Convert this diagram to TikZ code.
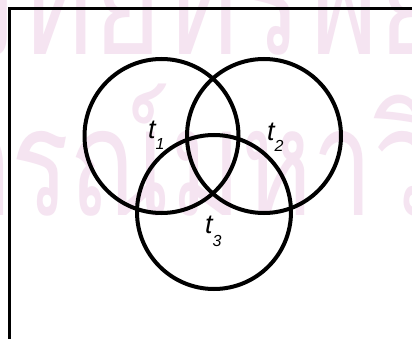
\documentclass[tikz,border=0pt]{standalone}
\usepackage{fontspec}
\setmainfont{Liberation Sans}
\newfontfamily\thaiwm[Script=Thai]{Loma}
\definecolor{wmpink}{RGB}{245,228,241}
\newlength\wmA
\newlength\wmB
\newcommand\wmfont{\thaiwm\fontsize{150}{150}\selectfont}
\begin{document}
\settowidth{\wmA}{\wmfont ศูนย์วิ}%
\settowidth{\wmB}{\wmfont จุฬาลงกรณ์}%
\begin{tikzpicture}[x=1pt,y=1pt,
  venn/.style={draw=black, line width=4pt},
  frameline/.style={draw=black, line width=3pt, line cap=rect},
  wm/.style={text=wmpink, font=\wmfont, inner sep=0pt, transform shape},
  lbl/.style={font=\fontsize{27}{27}\selectfont\itshape, inner sep=0pt, anchor=base west}]
\useasboundingbox (0,0) rectangle (412,338);
\fill[white] (0,0) rectangle (412,338);
\begin{scope}
\clip (0,0) rectangle (412,338);
\node[wm, xscale=0.78, anchor=base west] (wmtop) at (16pt-0.78\wmA, 283pt) {ศูนย์วิทยทรัพยากร};
\node[wm, xscale=0.72, anchor=base west] (wmbot) at (170pt-0.72\wmB, 123pt) {จุฬาลงกรณ์มหาวิทยาลัย};
\end{scope}
\coordinate (tl) at (9,329);
\coordinate (tr) at (412,329);
\coordinate (bl) at (9,0);
\draw[frameline] (tr) -- (tl) -- (bl);
\node[venn, circle, minimum size=154pt, inner sep=0pt] (c1) at (161.5,202) {};
\node[venn, circle, minimum size=154pt, inner sep=0pt] (c2) at (264,202) {};
\node[venn, circle, minimum size=154pt, inner sep=0pt] (c3) at (214,126) {};
\node[lbl] (t1) at (148,200) {t\raisebox{-11pt}{\fontsize{16}{16}\selectfont 1}};
\node[lbl] (t2) at (267,198) {t\raisebox{-11pt}{\fontsize{16}{16}\selectfont 2}};
\node[lbl] (t3) at (205,105) {t\raisebox{-13pt}{\fontsize{16}{16}\selectfont 3}};
\end{tikzpicture}
\end{document}
